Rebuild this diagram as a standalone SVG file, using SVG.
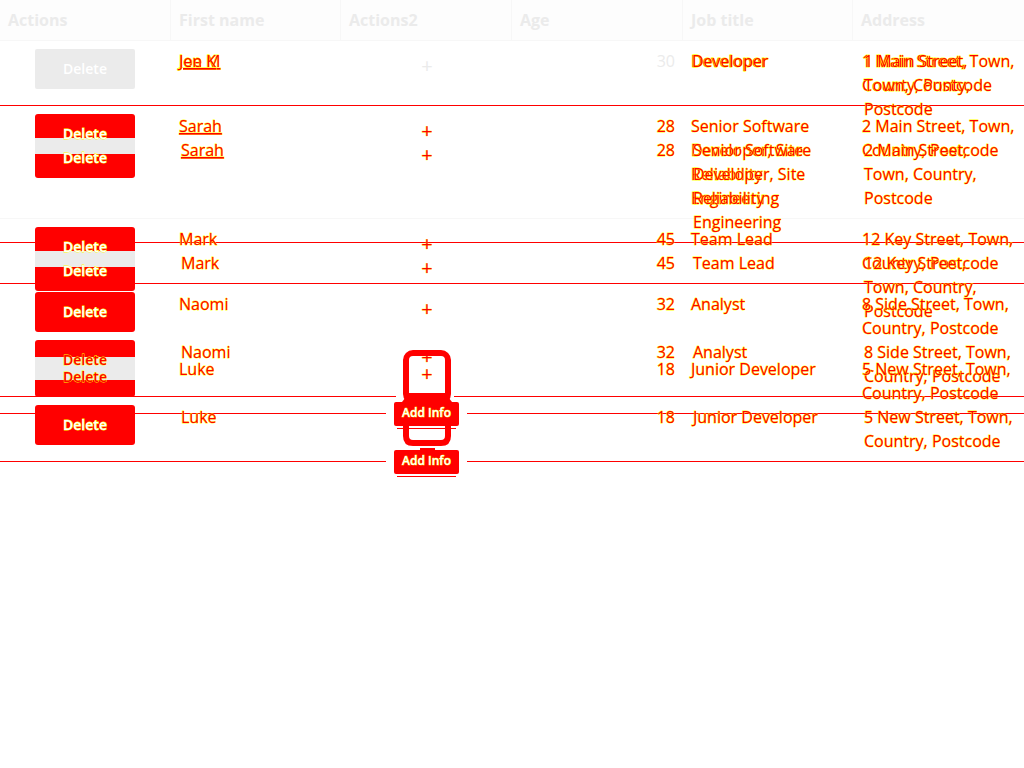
<svg xmlns="http://www.w3.org/2000/svg" width="1024" height="768" viewBox="0 0 1024 768">
<style>
text{font-family:"Open Sans","Noto Sans",sans-serif;font-size:16px}
.h{font-size:16px;font-weight:700;fill:#ebebeb}
.t{fill:#f00;stroke:#ff0;stroke-width:.8px;paint-order:stroke;transform:translateY(1px)}
.g{fill:#ebebeb;transform:translateY(1px)}
.u{text-decoration:underline}
.e{text-anchor:end}
.d{font-size:14px;font-weight:600;text-anchor:middle;fill:#fff;stroke:#ff0;stroke-width:.8px;paint-order:stroke}
.r{fill:#f00}
.p{font-size:20px;text-anchor:middle;fill:#f00;stroke:#ff0;stroke-width:.5px;paint-order:stroke}
.b{fill:#f00}
.l{stroke:#f00;stroke-width:1}
.s{stroke:#f7f7f7;stroke-width:1}
.o{fill:none;stroke:#f00;stroke-width:6}
.a{font-size:12px;font-weight:600;text-anchor:middle;fill:#fff;stroke:#ff0;stroke-width:.7px;paint-order:stroke}
</style>
<rect width="1024" height="768" fill="#fff"/>
<g id="header">
<rect width="1024" height="40" fill="#fdfdfd"/>
<path class="s" d="M0 40.500H1024M170.500 0V40M340.500 0V40M511.500 0V40M682.500 0V40M852.500 0V40"/>
<text class="h" x="8" y="26">Actions</text>
<text class="h" x="179" y="26">First name</text>
<text class="h" x="349" y="26">Actions2</text>
<text class="h" x="520" y="26">Age</text>
<text class="h" x="691" y="26">Job title</text>
<text class="h" x="861" y="26">Address</text>
</g>
<g id="connectors">
<path class="s" d="M0 218.500H1024"/>
<path class="l" d="M0 105.500H1024M0 242.500H1024M0 283.500H1024M0 396.500H1024M0 413.500H1024M0 461.500H1024"/>
<path stroke="#fff" stroke-width="1" d="M386 413.500H467M386 461.500H467M396 396.500H454"/>
</g>
<g id="row-1">
<rect x="35" y="49" width="100" height="40" rx="2" fill="#ebebeb"/>
<text class="d" x="85" y="74" style="stroke:none">Delete</text>
<text class="t u" x="179" y="66">Joe M</text>
<text class="t u" x="179" y="66">Jen K</text>
<text class="p" x="427" y="73" style="fill:#ebebeb;stroke:none">+</text>
<text class="g e" x="675" y="66">30</text>
<text class="t" x="691" y="66">Developer</text>
<text class="t" x="692" y="66">Developer</text>
<text class="t" x="862" y="66">1 Main Street, Town,</text>
<text class="t" x="862" y="90">County, Postcode</text>
<text class="t" x="864" y="66">1 Main Street,</text>
<text class="t" x="864" y="90">Town, County,</text>
<text class="t" x="864" y="114">Postcode</text>
</g>
<g id="row-2">
<rect class="b" x="35" y="114" width="100" height="64" rx="3"/>
<rect x="35" y="138" width="100" height="16" fill="#ebebeb"/>
<text class="d" x="85" y="139">Delete</text>
<text class="d" x="85" y="163">Delete</text>
<text class="t u" x="179" y="131">Sarah</text>
<text class="t u" x="181" y="155">Sarah</text>
<text class="p" x="427" y="138">+</text>
<text class="p" x="427" y="162">+</text>
<text class="t e" x="675" y="131">28</text>
<text class="t e" x="675" y="155">28</text>
<text class="t" x="691" y="131">Senior Software</text>
<text class="t" x="691" y="155">Developer, Site</text>
<text class="t" x="691" y="179">Reliability</text>
<text class="t" x="691" y="203">Engineering</text>
<text class="t" x="693" y="155">Senior Software</text>
<text class="t" x="693" y="179">Developer, Site</text>
<text class="t" x="693" y="203">Reliability</text>
<text class="t" x="693" y="227">Engineering</text>
<text class="t" x="862" y="131">2 Main Street, Town,</text>
<text class="t" x="862" y="155">Country, Postcode</text>
<text class="t" x="864" y="155">2 Main Street,</text>
<text class="t" x="864" y="179">Town, Country,</text>
<text class="t" x="864" y="203">Postcode</text>
</g>
<g id="row-3">
<rect class="b" x="35" y="227" width="100" height="64" rx="3"/>
<rect x="35" y="251" width="100" height="16" fill="#ebebeb"/>
<text class="d" x="85" y="252">Delete</text>
<text class="d" x="85" y="276">Delete</text>
<text class="t" x="179" y="244">Mark</text>
<text class="t" x="181" y="268">Mark</text>
<text class="p" x="427" y="251">+</text>
<text class="p" x="427" y="275">+</text>
<text class="t e" x="675" y="244">45</text>
<text class="t e" x="675" y="268">45</text>
<text class="t" x="691" y="244">Team Lead</text>
<text class="t" x="693" y="268">Team Lead</text>
<text class="t" x="862" y="244">12 Key Street, Town,</text>
<text class="t" x="862" y="268">Country, Postcode</text>
<text class="t" x="864" y="268">12 Key Street,</text>
<text class="t" x="864" y="292">Town, Country,</text>
<text class="t" x="864" y="316">Postcode</text>
</g>
<g id="row-4">
<rect class="b" x="35" y="292" width="100" height="40" rx="3"/>
<text class="d" x="85" y="317">Delete</text>
<text class="t" x="179" y="309">Naomi</text>
<text class="p" x="427" y="316">+</text>
<text class="t e" x="675" y="309">32</text>
<text class="t" x="691" y="309">Analyst</text>
<text class="t" x="862" y="309">8 Side Street, Town,</text>
<text class="t" x="862" y="333">Country, Postcode</text>
</g>
<g id="row-5">
<rect class="b" x="35" y="340" width="100" height="57" rx="3"/>
<rect x="35" y="357" width="100" height="23" fill="#ebebeb"/>
<text class="d r" x="85" y="365">Delete</text>
<text class="d r" x="85" y="382">Delete</text>
<text class="t" x="181" y="357">Naomi</text>
<text class="t" x="179" y="374">Luke</text>
<text class="t e" x="675" y="357">32</text>
<text class="t e" x="675" y="374">18</text>
<text class="t" x="693" y="357">Analyst</text>
<text class="t" x="691" y="374">Junior Developer</text>
<text class="t" x="864" y="357">8 Side Street, Town,</text>
<text class="t" x="864" y="381">Country, Postcode</text>
<text class="t" x="862" y="374">5 New Street, Town,</text>
<text class="t" x="862" y="398">Country, Postcode</text>
</g>
<g id="row-6">
<rect class="b" x="35" y="405" width="100" height="40" rx="3"/>
<text class="d" x="85" y="430">Delete</text>
<text class="t" x="181" y="422">Luke</text>
<text class="t e" x="675" y="422">18</text>
<text class="t" x="693" y="422">Junior Developer</text>
<text class="t" x="864" y="422">5 New Street, Town,</text>
<text class="t" x="864" y="446">Country, Postcode</text>
</g>
<g id="add-info-1">
<text class="p" x="427" y="364">+</text>
<rect class="o" x="406" y="353" width="42" height="48" rx="7"/>
<path class="b" d="M409 393H445L452 402H402Z"/>
<rect class="b" x="394" y="402" width="65" height="24" rx="2"/>
<path class="l" d="M397 428.500H456"/>
<text class="p" x="427" y="381">+</text>
<text class="a" x="426.500" y="417">Add Info</text>
</g>
<g id="add-info-2">
<path class="o" d="M406 426V436Q406 443 413 443H441Q448 443 448 436V426"/>
<path class="b" d="M420 448H435V450H420Z"/>
<rect class="b" x="394" y="450" width="65" height="24" rx="2"/>
<path class="l" d="M397 476.500H456"/>
<text class="a" x="426.500" y="465">Add Info</text>
</g>
</svg>
